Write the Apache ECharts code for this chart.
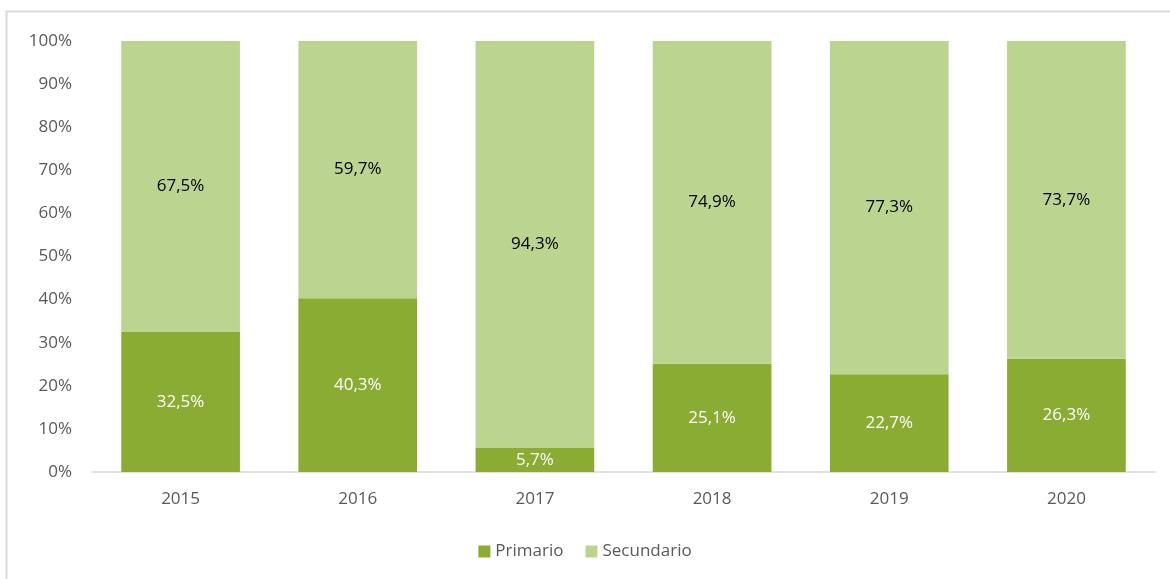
<!DOCTYPE html>
<html>
<head>
<meta charset="utf-8">
<script src="https://cdn.jsdelivr.net/npm/echarts@6/dist/echarts.min.js"></script>
<style>
  html, body { margin: 0; padding: 0; background: #ffffff; }
  #chart { width: 1170px; height: 579px; }
</style>
</head>
<body>
<div id="chart"></div>
<script>
  var years = ['2015', '2016', '2017', '2018', '2019', '2020'];
  var primario = [32.5, 40.3, 5.7, 25.1, 22.7, 26.3];
  var secundario = [67.5, 59.7, 94.3, 74.9, 77.3, 73.7];

  var fontName = 'Open Sans';

  function pct(p) {
    return p.value.toFixed(1).replace('.', ',') + '%';
  }

  var chart = echarts.init(document.getElementById('chart'));
  var option = {
    backgroundColor: '#ffffff',
    textStyle: { fontFamily: fontName },
    graphic: [{
      type: 'rect',
      shape: { x: 6.5, y: 11.5, width: 1200, height: 600 },
      style: { fill: 'none', stroke: '#d9d9d9', lineWidth: 2 },
      silent: true
    }],
    grid: { left: 92, right: 15, top: 41, bottom: 107 },
    legend: {
      bottom: 14,
      left: 'center',
      itemWidth: 12,
      itemHeight: 12,
      itemGap: 22,
      icon: 'rect',
      textStyle: { fontSize: 17, color: '#595959', fontFamily: fontName },
      data: ['Primario', 'Secundario']
    },
    xAxis: {
      type: 'category',
      data: years,
      axisTick: { show: false },
      axisLine: { lineStyle: { color: '#d9d9d9', width: 1.5 } },
      axisLabel: { fontSize: 17, color: '#595959', margin: 19 }
    },
    yAxis: {
      type: 'value',
      min: 0,
      max: 100,
      interval: 10,
      splitLine: { show: false },
      axisLine: { show: false },
      axisTick: { show: false },
      axisLabel: { fontSize: 17, color: '#595959', margin: 20, formatter: '{value}%' }
    },
    series: [
      {
        name: 'Primario',
        type: 'bar',
        stack: 'total',
        barWidth: '67%',
        color: '#8aac32',
        data: primario,
        label: { show: true, position: 'inside', color: '#ffffff', fontSize: 17, formatter: pct }
      },
      {
        name: 'Secundario',
        type: 'bar',
        stack: 'total',
        barWidth: '67%',
        color: '#bbd48f',
        data: secundario,
        label: { show: true, position: 'inside', color: '#000000', fontSize: 17, formatter: pct }
      }
    ]
  };
  chart.setOption(option);
</script>
</body>
</html>
